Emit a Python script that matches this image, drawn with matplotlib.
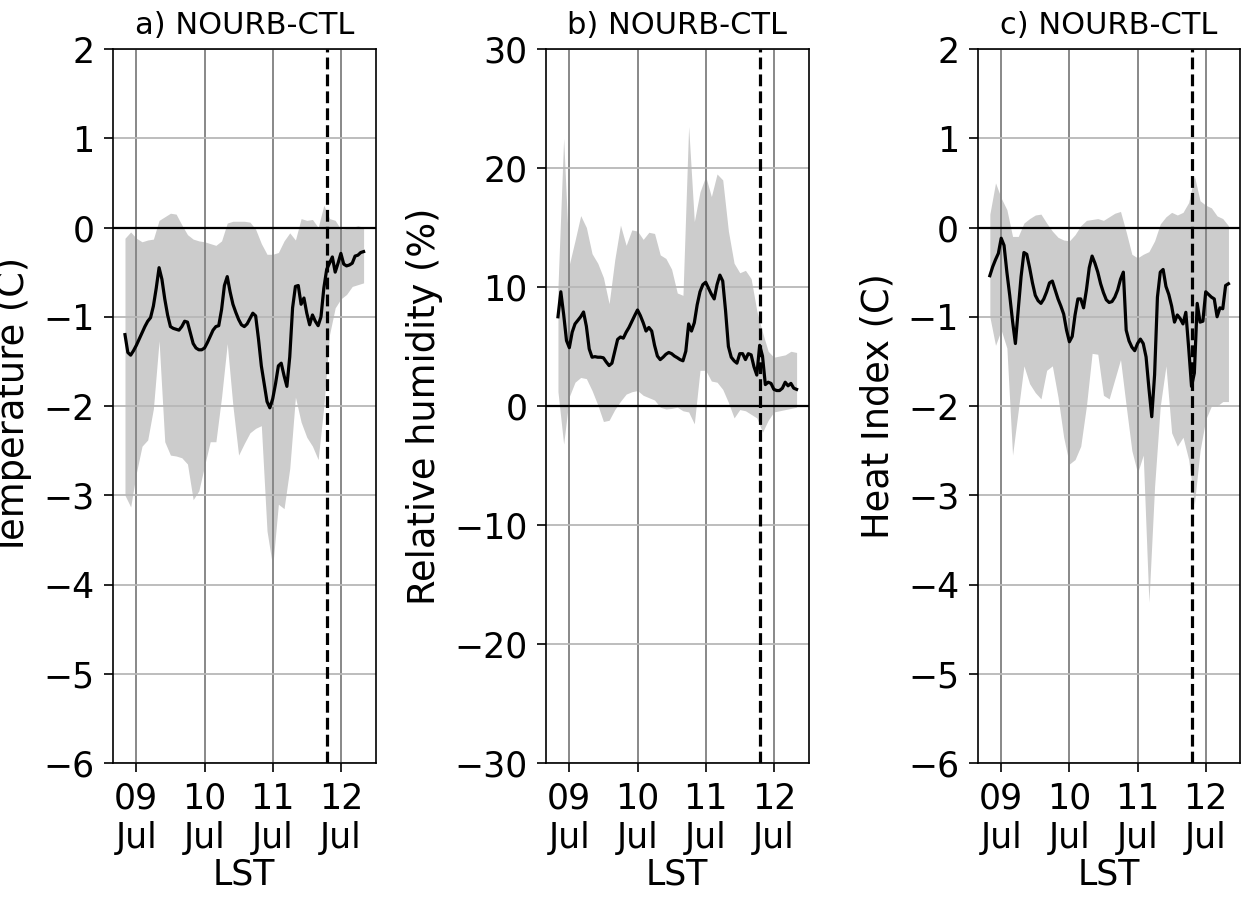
import numpy as np
import pandas as pd
import matplotlib
matplotlib.use("Agg")
import matplotlib.pyplot as plt
import matplotlib.dates as mdates


# hourly times for the mean line, 2-hourly for the spread band
t_line = pd.date_range("2018-07-08 20:00", "2018-07-12 08:00", freq="1h")
t_band = pd.date_range("2018-07-08 20:00", "2018-07-12 08:00", freq="2h")
t_event = pd.Timestamp("2018-07-11 19:00")

temp_mean = [-1.20, -1.40, -1.43, -1.38, -1.32, -1.25, -1.18, -1.11, -1.05, -1.01,
             -0.88, -0.68, -0.45, -0.58, -0.80, -0.98, -1.11, -1.13, -1.14, -1.15,
             -1.11, -1.05, -1.06, -1.18, -1.30, -1.35, -1.37, -1.37, -1.35, -1.29,
             -1.22, -1.15, -1.11, -1.10, -0.92, -0.65, -0.55, -0.72, -0.86, -0.95,
             -1.03, -1.09, -1.11, -1.08, -1.02, -0.96, -0.99, -1.25, -1.55, -1.75,
             -1.95, -2.02, -1.92, -1.75, -1.55, -1.52, -1.66, -1.78, -1.45, -0.90,
             -0.66, -0.65, -0.86, -0.79, -0.96, -1.09, -0.98, -1.05, -1.10, -1.00,
             -0.68, -0.47, -0.40, -0.33, -0.50, -0.40, -0.29, -0.41, -0.43, -0.42,
             -0.40, -0.32, -0.31, -0.28, -0.27]
temp_hi = [-0.12, -0.05, -0.12, -0.16, -0.14, -0.13, 0.08, 0.12, 0.16, 0.15,
           0.03, -0.08, -0.13, -0.15, -0.16, -0.18, -0.20, -0.15, 0.05, 0.07,
           0.07, 0.07, 0.06, -0.02, -0.18, -0.30, -0.30, -0.28, -0.15, -0.06,
           -0.14, 0.10, 0.08, 0.09, 0.00, 0.25, 0.10, 0.08, -0.02, -0.01,
           0.00, 0.02, 0.00]
temp_lo = [-3.00, -3.13, -2.75, -2.45, -2.38, -2.03, -1.27, -2.40, -2.55, -2.56,
           -2.58, -2.65, -3.05, -2.95, -2.67, -2.40, -2.40, -1.90, -1.30, -2.00,
           -2.55, -2.42, -2.30, -2.25, -2.22, -3.40, -3.80, -3.10, -3.15, -2.70,
           -1.90, -2.18, -2.35, -2.45, -2.60, -2.00, -1.20, -0.90, -0.80, -0.75,
           -0.66, -0.64, -0.62]

rh_mean = [7.5, 9.6, 7.7, 5.5, 4.9, 6.2, 6.9, 7.2, 7.5, 7.9,
           6.7, 4.8, 4.1, 4.15, 4.1, 4.1, 4.05, 3.7, 3.4, 3.6,
           4.6, 5.6, 5.8, 5.7, 6.2, 6.6, 7.1, 7.6, 8.07, 7.6,
           7.0, 6.3, 6.6, 6.3, 5.1, 4.2, 3.9, 4.1, 4.35, 4.5,
           4.4, 4.2, 4.06, 3.9, 3.8, 4.6, 6.9, 6.3, 7.0, 8.5,
           9.6, 10.2, 10.4, 9.9, 9.4, 9.0, 10.2, 11.0, 10.5, 8.0,
           5.0, 4.1, 3.8, 3.6, 4.4, 4.4, 3.9, 4.4, 4.3, 3.3,
           2.6, 5.1, 4.2, 1.8, 2.0, 1.9, 1.4, 1.3, 1.3, 1.5,
           2.0, 1.7, 1.9, 1.5, 1.4]
rh_hi = [10.0, 22.5, 11.9, 13.9, 16.0, 15.0, 12.8, 12.0, 10.8, 8.6,
         12.3, 15.2, 13.5, 14.8, 14.7, 14.0, 14.6, 14.5, 12.7, 12.4,
         11.5, 9.5, 9.3, 23.5, 15.5, 18.0, 19.3, 17.6, 19.5, 19.0,
         14.7, 12.0, 11.2, 11.4, 10.7, 8.0, 6.2, 4.6, 4.1, 4.2,
         4.3, 4.6, 4.5]
rh_lo = [1.2, -3.2, 0.8, 2.0, 2.4, 2.3, 1.3, 0.1, -1.3, -1.2,
         -0.3, 0.4, 1.0, 1.2, 1.3, 0.9, 0.7, 0.5, -0.1, -0.25,
         -0.2, -0.1, -0.4, -0.5, -1.5, 3.0, 3.0, 2.1, 2.0, 1.4,
         0.3, -1.0, -0.3, -0.4, -0.7, -1.0, -2.2, -1.2, -0.5, -0.4,
         -0.3, -0.2, -0.1]

hi_mean = [-0.54, -0.44, -0.36, -0.29, -0.12, -0.20, -0.50, -0.76, -1.05, -1.30,
           -0.92, -0.55, -0.28, -0.30, -0.45, -0.62, -0.76, -0.82, -0.85, -0.80,
           -0.72, -0.62, -0.60, -0.70, -0.80, -0.88, -0.97, -1.15, -1.28, -1.22,
           -0.98, -0.80, -0.80, -0.90, -0.70, -0.45, -0.32, -0.40, -0.50, -0.63,
           -0.73, -0.81, -0.84, -0.83, -0.78, -0.70, -0.58, -0.50, -1.15, -1.27,
           -1.34, -1.38, -1.30, -1.25, -1.30, -1.45, -1.80, -2.12, -1.65, -0.78,
           -0.50, -0.47, -0.66, -0.75, -0.88, -1.06, -0.98, -1.02, -1.08, -0.95,
           -1.35, -1.78, -1.63, -0.85, -1.06, -1.05, -0.72, -0.75, -0.78, -0.80,
           -1.00, -0.90, -0.91, -0.65, -0.63]
hi_hi = [0.15, 0.50, 0.33, 0.20, -0.10, -0.10, 0.05, 0.10, 0.14, 0.15,
         0.05, -0.04, -0.11, -0.14, -0.15, -0.08, 0.02, 0.08, 0.09, 0.10,
         0.08, 0.12, 0.16, 0.18, -0.05, -0.30, -0.34, -0.30, -0.27, -0.15,
         0.04, 0.12, 0.17, 0.14, 0.17, 0.28, 0.58, 0.30, 0.25, 0.22,
         0.13, 0.10, 0.02]
hi_lo = [-1.00, -1.32, -1.15, -1.35, -2.55, -2.05, -1.55, -1.75, -1.85, -1.92,
         -1.60, -1.55, -1.90, -2.35, -2.65, -2.60, -2.45, -2.00, -1.41, -1.42,
         -1.88, -1.92, -1.70, -1.48, -2.00, -2.50, -2.75, -2.55, -4.20, -2.90,
         -2.00, -1.55, -2.30, -2.45, -2.35, -2.60, -3.10, -2.50, -2.15, -2.00,
         -2.00, -1.95, -1.95]

titles = ["a) NOURB-CTL", "b) NOURB-CTL", "c) NOURB-CTL"]
ylabels = ["Temperature (C)", "Relative humidity (%)", "Heat Index (C)"]
lefts = [0.0911, 0.4400, 0.7880]


def draw_panel(ax, mean, lo, hi, title, ylabel, ylim, yticks):
    ax.fill_between(t_band, lo, hi, color="0.8", linewidth=0)
    ax.plot(t_line, mean, color="k", lw=2.3)
    ax.axhline(0, color="k", lw=1.6)
    ax.axvline(t_event, color="k", lw=2.3, ls="--")
    ax.set_ylim(ylim)
    ax.set_yticks(yticks)
    ax.xaxis.set_major_locator(mdates.DayLocator())
    ax.xaxis.set_major_formatter(mdates.DateFormatter("%d\n%b"))
    ax.grid(axis="x", color="#888888", lw=1.4)
    ax.grid(axis="y", color="#b8b8b8", lw=1.3)
    ax.tick_params(labelsize=25, length=6.5, width=1.2, pad=7)
    for s in ax.spines.values():
        s.set_linewidth(1.2)
    ax.set_title(title, fontsize=22, pad=11)
    # the first panel's label runs off the left edge, as in the original
    ax.set_ylabel(ylabel, fontsize=26.5, labelpad=8)
    ax.set_xlabel("LST", fontsize=25, labelpad=2)


fig = plt.figure(figsize=(12.41, 9.16), dpi=100)
axes = [fig.add_axes([l, 0.167, 0.2115, 0.7795]) for l in lefts]

draw_panel(axes[0], temp_mean, temp_lo, temp_hi, titles[0], ylabels[0],
           (-6, 2), np.arange(-6, 3, 1))
draw_panel(axes[1], rh_mean, rh_lo, rh_hi, titles[1], ylabels[1],
           (-30, 30), np.arange(-30, 31, 10))
draw_panel(axes[2], hi_mean, hi_lo, hi_hi, titles[2], ylabels[2],
           (-6, 2), np.arange(-6, 3, 1))

fig.savefig("out.png", dpi=100)
